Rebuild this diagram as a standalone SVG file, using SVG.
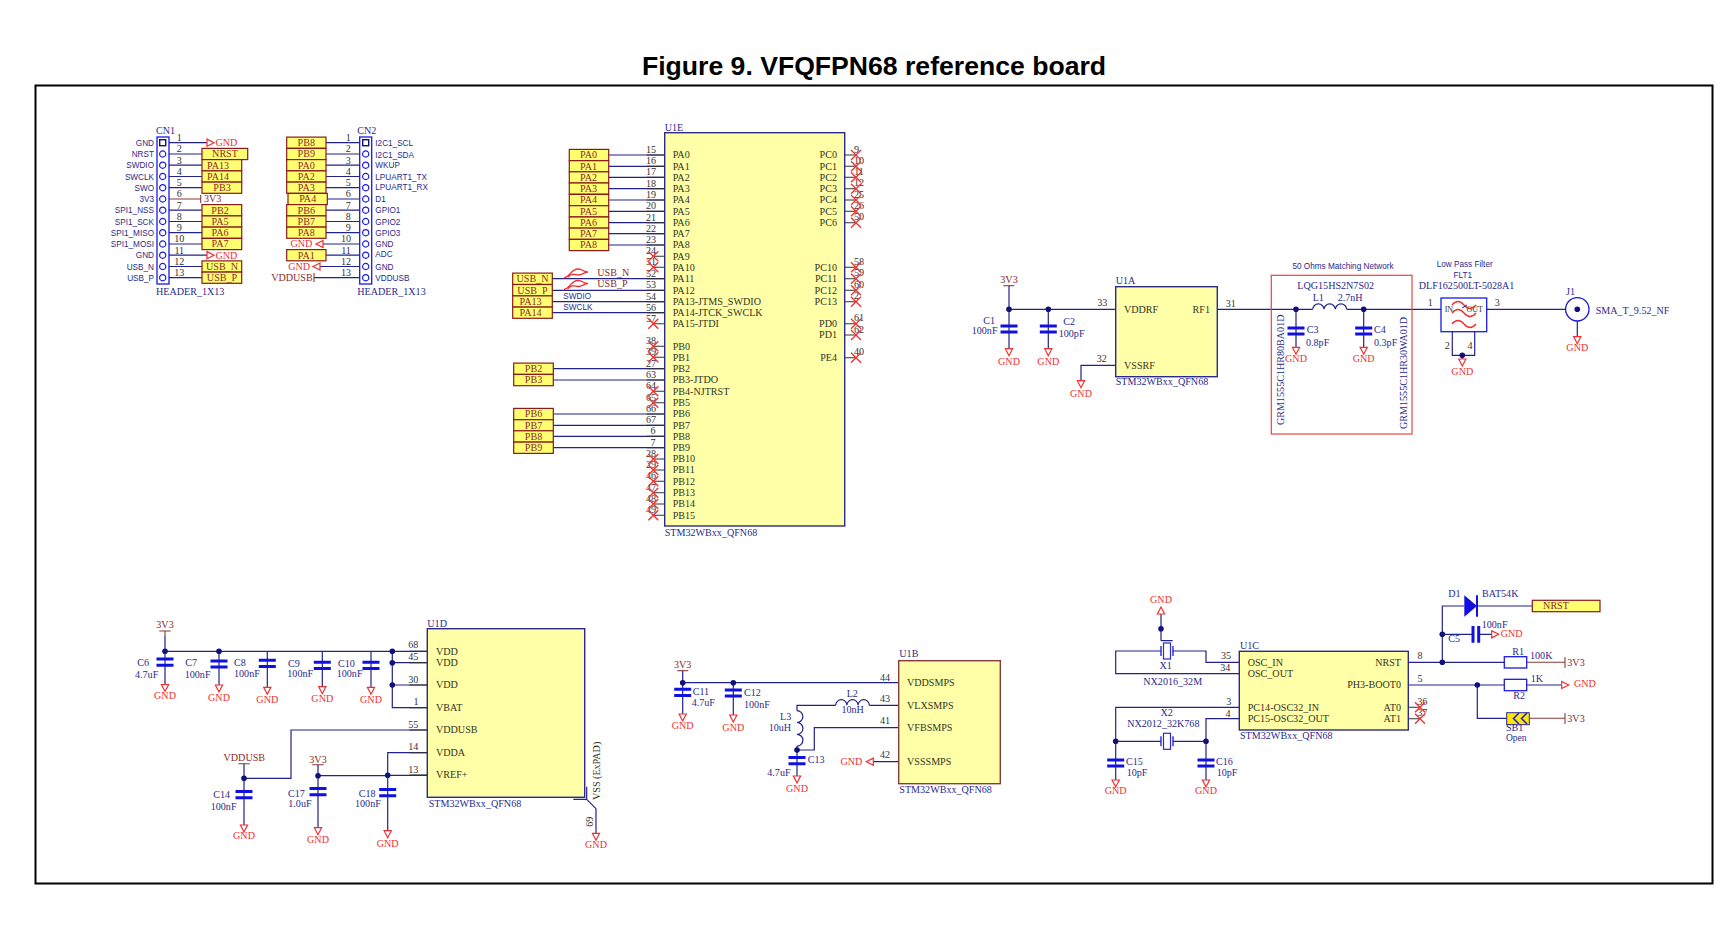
<svg xmlns="http://www.w3.org/2000/svg" width="1735" height="935" viewBox="0 0 1735 935">
<style>
text{font-family:"Liberation Serif","Times New Roman",serif;font-size:10.1px;fill:#2a2a8c}
.t{font-family:"Liberation Sans",Arial,sans-serif;font-size:26.6px;font-weight:bold;fill:#000}
.l{font-family:"Liberation Sans",Arial,sans-serif;font-size:8.2px;fill:#2a2a8c}
.n{fill:#333320}.p{fill:#333333}.r{fill:#f03030}.m{fill:#8a2a2a}
.c{text-anchor:middle}.e{text-anchor:end}
.w{fill:none;stroke:#22228c;stroke-width:1.2}
.k{fill:none;stroke:#333;stroke-width:1.1}
.rw{fill:none;stroke:#8a3a3a;stroke-width:1.1}
.chip{fill:#ffffa8;stroke:#2a2a8c;stroke-width:1.4}
.box{fill:#ffff70;stroke:#8a1a1a;stroke-width:1.2}
.sq{fill:none;stroke:#f03030;stroke-width:1.3}
.bl{fill:#fff;stroke:#1a1ae0;stroke-width:1.3}
</style>
<defs>
<g id="gd"><path d="M-3.6 0H3.6L0 7Z" fill="#fff" stroke="#f03030" stroke-width="1.2"/></g>
<g id="gu"><path d="M-3.6 0H3.6L0 -7Z" fill="#fff" stroke="#f03030" stroke-width="1.2"/></g>
<g id="gr"><path d="M0 -3.6V3.6L7 0Z" fill="#fff" stroke="#f03030" stroke-width="1.2"/></g>
<g id="gl"><path d="M0 -3.6V3.6L-7 0Z" fill="#fff" stroke="#f03030" stroke-width="1.2"/></g>
<g id="x"><path d="M-5 -5L5 5M-5 5L5 -5" stroke="#f03030" stroke-width="1.3" fill="none"/></g>
<g id="cap"><path d="M-8.5 -3.1H8.5M-8.5 3.1H8.5" stroke="#1010e0" stroke-width="3" fill="none"/></g>
<circle id="dot" r="2.8" fill="#10107a"/>
<circle id="hc" r="3.1" fill="#fff" stroke="#1a1ae0" stroke-width="1.2"/>
<g id="xt"><rect x="-3.5" y="-8" width="7" height="16" fill="none" stroke="#2a2ad0" stroke-width="1.2"/><path d="M-6 -5V5M6 -5V5" stroke="#2a2ad0" stroke-width="1.4" fill="none"/></g>
</defs>

<text class="t c" x="874" y="75">Figure 9. VFQFPN68 reference board</text>
<rect id="frame" x="35.5" y="85.5" width="1677" height="798" fill="#fff" stroke="#000" stroke-width="2"/>

<g id="connectors">
<path class="w" d="M169 142.7H207M169 154H202M169 165.2H202M169 176.5H202M169 187.7H202M169 210.2H202M169 221.5H202M169 232.7H202M169 244H202M169 255.2H207M169 266.5H202M169 277.7H202"/>
<path class="rw" d="M169 199H200.7M200.7 195V203"/>
<path class="w" d="M326 142.7H360M326 154H360M326 165.2H360M326 176.5H360M326 187.7H360M327.3 199H360M326 210.2H360M326 221.5H360M326 232.7H360M323 244H360M326 255.2H360M320 266.5H360M314 277.7H360"/>
<path class="rw" d="M314 273V282"/>
<path class="w" d="M608.7 155H664.7M608.7 166.3H664.7M608.7 177.3H664.7M608.7 188.7H664.7M608.7 200H664.7M608.7 211.3H664.7M608.7 222.7H664.7M608.7 233.7H664.7M608.7 245H664.7M552.3 278.7H664.7M552.3 290.3H664.7M552.3 301.7H664.7M552.3 312.7H664.7M553.3 368.7H664.7M553.3 380H664.7M553.3 414H664.7M553.3 425.3H664.7M553.3 436.3H664.7M553.3 447.7H664.7"/>
<path class="k" d="M664.7 155h-18M664.7 166.3h-18M664.7 177.3h-18M664.7 188.7h-18M664.7 200h-18M664.7 211.3h-18M664.7 222.7h-18M664.7 233.7h-18M664.7 245h-18M664.7 256.3H653.3M664.7 267.3H653.3M664.7 278.7h-18M664.7 290.3h-18M664.7 301.7h-18M664.7 312.7h-18M664.7 323.7H653.3M664.7 346.3H653.3M664.7 357.3H653.3M664.7 368.7h-18M664.7 380h-18M664.7 391.3H653.3M664.7 402.7H653.3M664.7 414h-18M664.7 425.3h-18M664.7 436.3h-18M664.7 447.7h-18M664.7 459H653.3M664.7 470H653.3M664.7 481.3H653.3M664.7 492.7H653.3M664.7 504H653.3M664.7 515.3H653.3M844.7 155H856M844.7 166.3H856M844.7 177.3H856M844.7 188.7H856M844.7 200H856M844.7 211.3H856M844.7 222.7H856M844.7 267.3H856M844.7 278.7H856M844.7 290.3H856M844.7 301.7H856M844.7 323.7H856M844.7 335H856M844.7 357.7H856"/>
<path class="sq" d="M564 278C570 277 571 269 578 269C583 269 583 272 588 272M568 277C572 273 574 274.5 578 275C583 275 584 272 588 272M564 289.5C570 288.5 571 280.5 578 280.5C583 280.5 583 283.5 588 283.5M568 288.5C572 284.5 574 286 578 286.5C583 286.5 584 283.5 588 283.5"/>
<path class="w" d="M1009 285.7V309.3H1115.7M1009 309.3V348.7M1048.3 309.3V348.7M1115.7 365.3H1081V380.7M1217.3 309.3H1312.7M1346.7 309.3H1441M1296 309.3V347.3M1363.7 309.3V347.3M1486.7 309.3H1566M1452.3 331.7V355.3H1474.7V331.7M1462.3 355.3V359M1577.3 321V336.7"/>
<path class="rw" d="M1003.3 285.7H1014.3"/>
<path class="w" d="M1312.7 309.3a5.67 5.67 0 0 1 11.33 0a5.67 5.67 0 0 1 11.33 0a5.67 5.67 0 0 1 11.33 0"/>
<path class="w" d="M165 636V651.3H427.3M392.3 651.3V707.7H427.3M392.3 662.7H427.3M392.3 685H427.3M165 651.3V686.7M219 651.3V685M267.3 651.3V687.3M322.3 651.3V686.7M371 651.3V687.3M427.3 730H291V778.3H244M244 763.7V825M427.3 752.7H387.7V830.7M318 764.7V827.7M318 775.7L387.7 775.3H427.3M586.7 786.7V799.3H573.3M586.7 799.3L596 808.7V833.3"/>
<path class="rw" d="M159.3 631H170.7M165 631V636M238.3 763.7H249.7M312.3 764.7H323.7"/>
<path class="k" d="M427.3 651.3h-18M427.3 662.7h-18M427.3 685h-18M427.3 707.7h-18M427.3 730h-18M427.3 752.7h-18M427.3 775h-18"/>
<path class="w" d="M682.7 670.7V714M682.7 682.7H898.7M733.3 682.7V715M898.7 705.3H869.3M835.7 705.3H797V710.7M797 746V776M797 750H814.3V727.7H898.7M898.7 761.7H873.3"/>
<path class="w" d="M835.7 705.3a5.6 5.6 0 0 1 11.2 0a5.6 5.6 0 0 1 11.2 0a5.6 5.6 0 0 1 11.2 0M797 710.7a5.9 5.9 0 0 1 0 11.8a5.9 5.9 0 0 1 0 11.8a5.9 5.9 0 0 1 0 11.8"/>
<path class="rw" d="M677.3 670.7H688.3"/>
<path class="w" d="M1161 614V640.7M1161 640.7H1172.7M1239.3 662.3H1206V651H1172.7M1161 651H1115.7V673.7H1239.3M1239.3 707.3H1115.7V780M1239.3 718.7H1206V780M1115.7 741.3H1161M1172.7 741.3H1206"/>
<path class="k" d="M1408.3 707.3H1420M1408.3 718.7H1420"/>
<path class="w" d="M1408.3 662.3H1504.3M1442.3 662.3V606H1464.3M1477 606H1532.3M1442.3 634.3H1472.7M1478.7 634.3H1491.7M1408.3 685H1504.3M1526.7 685H1561.7M1477.3 685V718.3H1506.7"/>
<path class="rw" d="M1526.7 662.3H1565M1565 657V668M1529.3 718.3H1565M1565 713V724"/>
</g>

<g id="CN1">
<rect x="157" y="137" width="12" height="147" fill="#fff" stroke="#1a1ae0" stroke-width="1.3"/>
<rect x="159.7" y="139.7" width="6" height="6" fill="#fff" stroke="#10107a" stroke-width="1.4"/>
<use href="#hc" x="162.7" y="154"/><use href="#hc" x="162.7" y="165.2"/><use href="#hc" x="162.7" y="176.5"/><use href="#hc" x="162.7" y="187.7"/><use href="#hc" x="162.7" y="199"/><use href="#hc" x="162.7" y="210.2"/><use href="#hc" x="162.7" y="221.5"/><use href="#hc" x="162.7" y="232.7"/><use href="#hc" x="162.7" y="244"/><use href="#hc" x="162.7" y="255.2"/><use href="#hc" x="162.7" y="266.5"/><use href="#hc" x="162.7" y="277.7"/>
<text x="156" y="134">CN1</text><text x="156" y="294.7">HEADER_1X13</text>
<text class="l e" x="154" y="146">GND</text><text class="l e" x="154" y="157">NRST</text><text class="l e" x="154" y="168">SWDIO</text><text class="l e" x="154" y="179.5">SWCLK</text><text class="l e" x="154" y="191">SWO</text><text class="l e" x="154" y="202">3V3</text><text class="l e" x="154" y="213">SPI1_NSS</text><text class="l e" x="154" y="224.5">SPI1_SCK</text><text class="l e" x="154" y="235.7">SPI1_MISO</text><text class="l e" x="154" y="247">SPI1_MOSI</text><text class="l e" x="154" y="258">GND</text><text class="l e" x="154" y="269.5">USB_N</text><text class="l e" x="154" y="280.7">USB_P</text>
<text class="p c" x="179.3" y="141">1</text><text class="p c" x="179.3" y="152.3">2</text><text class="p c" x="179.3" y="163.5">3</text><text class="p c" x="179.3" y="174.8">4</text><text class="p c" x="179.3" y="186">5</text><text class="p c" x="179.3" y="197.3">6</text><text class="p c" x="179.3" y="208.5">7</text><text class="p c" x="179.3" y="219.8">8</text><text class="p c" x="179.3" y="231">9</text><text class="p c" x="179.3" y="242.3">10</text><text class="p c" x="179.3" y="253.5">11</text><text class="p c" x="179.3" y="264.8">12</text><text class="p c" x="179.3" y="276">13</text>
<use href="#gr" x="207" y="142.7"/><text class="r" x="215.5" y="146">GND</text>
<use href="#gr" x="207" y="255.2"/><text class="r" x="215.5" y="258.5">GND</text>
<text class="m" x="204" y="202.3">3V3</text>
<rect class="box" x="202" y="148.4" width="45.7" height="11.2"/><text class="m c" x="225" y="157.3">NRST</text>
<rect class="box" x="202" y="159.6" width="39.7" height="11.2"/><text class="m c" x="218" y="168.5">PA13</text>
<rect class="box" x="202" y="170.9" width="39.7" height="11.2"/><text class="m c" x="218" y="179.8">PA14</text>
<rect class="box" x="202" y="182.1" width="39.7" height="11.2"/><text class="m c" x="222" y="191">PB3</text>
<rect class="box" x="202" y="204.6" width="39.7" height="11.2"/><text class="m c" x="220" y="213.5">PB2</text>
<rect class="box" x="202" y="215.9" width="39.7" height="11.2"/><text class="m c" x="220" y="224.8">PA5</text>
<rect class="box" x="202" y="227.1" width="39.7" height="11.2"/><text class="m c" x="220" y="236">PA6</text>
<rect class="box" x="202" y="238.4" width="39.7" height="11.2"/><text class="m c" x="220" y="247.3">PA7</text>
<rect class="box" x="202" y="260.9" width="39.7" height="11.2"/><text class="m c" x="222" y="269.8">USB_N</text>
<rect class="box" x="202" y="272.1" width="39.7" height="11.2"/><text class="m c" x="222" y="281">USB_P</text>
</g>

<g id="CN2">
<rect x="359.7" y="137" width="12" height="147" fill="#fff" stroke="#1a1ae0" stroke-width="1.3"/>
<rect x="362.7" y="139.7" width="6" height="6" fill="#fff" stroke="#10107a" stroke-width="1.4"/>
<use href="#hc" x="365.7" y="154"/><use href="#hc" x="365.7" y="165.2"/><use href="#hc" x="365.7" y="176.5"/><use href="#hc" x="365.7" y="187.7"/><use href="#hc" x="365.7" y="199"/><use href="#hc" x="365.7" y="210.2"/><use href="#hc" x="365.7" y="221.5"/><use href="#hc" x="365.7" y="232.7"/><use href="#hc" x="365.7" y="244"/><use href="#hc" x="365.7" y="255.2"/><use href="#hc" x="365.7" y="266.5"/><use href="#hc" x="365.7" y="277.7"/>
<text x="357.3" y="134">CN2</text><text x="357.3" y="294.7">HEADER_1X13</text>
<text class="l" x="375.3" y="146">I2C1_SCL</text><text class="l" x="375.3" y="157.5">I2C1_SDA</text><text class="l" x="375.3" y="168">WKUP</text><text class="l" x="375.3" y="179.5">LPUART1_TX</text><text class="l" x="375.3" y="189.5">LPUART1_RX</text><text class="l" x="375.3" y="202">D1</text><text class="l" x="375.3" y="213">GPIO1</text><text class="l" x="375.3" y="224.5">GPIO2</text><text class="l" x="375.3" y="235.7">GPIO3</text><text class="l" x="375.3" y="247">GND</text><text class="l" x="375.3" y="257">ADC</text><text class="l" x="375.3" y="269.5">GND</text><text class="l" x="375.3" y="280.7">VDDUSB</text>
<text class="p c" x="348.3" y="141">1</text><text class="p c" x="348.3" y="152.3">2</text><text class="p c" x="348.3" y="163.5">3</text><text class="p c" x="348.3" y="174.8">4</text><text class="p c" x="348.3" y="186">5</text><text class="p c" x="348.3" y="197.3">6</text><text class="p c" x="348.3" y="208.5">7</text><text class="p c" x="348.3" y="219.8">8</text><text class="p c" x="348.3" y="231">9</text><text class="p c" x="346" y="242.3">10</text><text class="p c" x="346" y="253.5">11</text><text class="p c" x="346" y="264.8">12</text><text class="p c" x="346" y="276">13</text>
<rect class="box" x="286.7" y="137.1" width="39.3" height="11.2"/><text class="m c" x="306.3" y="146">PB8</text>
<rect class="box" x="286.7" y="148.4" width="39.3" height="11.2"/><text class="m c" x="306.3" y="157.3">PB9</text>
<rect class="box" x="286.7" y="159.6" width="39.3" height="11.2"/><text class="m c" x="306.3" y="168.5">PA0</text>
<rect class="box" x="286.7" y="170.9" width="39.3" height="11.2"/><text class="m c" x="306.3" y="179.8">PA2</text>
<rect class="box" x="286.7" y="182.1" width="39.3" height="11.2"/><text class="m c" x="306.3" y="191">PA3</text>
<rect class="box" x="288" y="193.4" width="39.3" height="11.2"/><text class="m c" x="307.7" y="202.3">PA4</text>
<rect class="box" x="286.7" y="204.6" width="39.3" height="11.2"/><text class="m c" x="306.3" y="213.5">PB6</text>
<rect class="box" x="286.7" y="215.9" width="39.3" height="11.2"/><text class="m c" x="306.3" y="224.8">PB7</text>
<rect class="box" x="286.7" y="227.1" width="39.3" height="11.2"/><text class="m c" x="306.3" y="236">PA8</text>
<rect class="box" x="286.7" y="249.6" width="39.3" height="11.2"/><text class="m c" x="306.3" y="258.5">PA1</text>
<use href="#gl" x="323" y="244"/><text class="r e" x="312.3" y="247.3">GND</text>
<use href="#gl" x="320" y="266.5"/><text class="r e" x="310" y="269.8">GND</text>
<text class="m e" x="312.7" y="281">VDDUSB</text>
</g>

<g id="U1E">
<rect class="chip" x="664.7" y="132.7" width="180" height="393.3"/>
<text x="664.7" y="131">U1E</text><text x="664.7" y="536">STM32WBxx_QFN68</text>
<text class="n" x="672.7" y="158.3">PA0</text><text class="n" x="672.7" y="169.6">PA1</text><text class="n" x="672.7" y="180.6">PA2</text><text class="n" x="672.7" y="192">PA3</text><text class="n" x="672.7" y="203.3">PA4</text><text class="n" x="672.7" y="214.6">PA5</text><text class="n" x="672.7" y="226">PA6</text><text class="n" x="672.7" y="237">PA7</text><text class="n" x="672.7" y="248.3">PA8</text><text class="n" x="672.7" y="259.6">PA9</text><text class="n" x="672.7" y="270.6">PA10</text><text class="n" x="672.7" y="282">PA11</text><text class="n" x="672.7" y="293.6">PA12</text><text class="n" x="672.7" y="305">PA13-JTMS_SWDIO</text><text class="n" x="672.7" y="316">PA14-JTCK_SWCLK</text><text class="n" x="672.7" y="327">PA15-JTDI</text>
<text class="n" x="672.7" y="349.6">PB0</text><text class="n" x="672.7" y="360.6">PB1</text><text class="n" x="672.7" y="372">PB2</text><text class="n" x="672.7" y="383.3">PB3-JTDO</text><text class="n" x="672.7" y="394.6">PB4-NJTRST</text><text class="n" x="672.7" y="406">PB5</text><text class="n" x="672.7" y="417.3">PB6</text><text class="n" x="672.7" y="428.6">PB7</text><text class="n" x="672.7" y="439.6">PB8</text><text class="n" x="672.7" y="451">PB9</text><text class="n" x="672.7" y="462.3">PB10</text><text class="n" x="672.7" y="473.3">PB11</text><text class="n" x="672.7" y="484.6">PB12</text><text class="n" x="672.7" y="496">PB13</text><text class="n" x="672.7" y="507.3">PB14</text><text class="n" x="672.7" y="518.6">PB15</text>
<text class="n e" x="837" y="158.3">PC0</text><text class="n e" x="837" y="169.6">PC1</text><text class="n e" x="837" y="180.6">PC2</text><text class="n e" x="837" y="192">PC3</text><text class="n e" x="837" y="203.3">PC4</text><text class="n e" x="837" y="214.6">PC5</text><text class="n e" x="837" y="226">PC6</text><text class="n e" x="837" y="270.6">PC10</text><text class="n e" x="837" y="282">PC11</text><text class="n e" x="837" y="293.6">PC12</text><text class="n e" x="837" y="305">PC13</text><text class="n e" x="837" y="327">PD0</text><text class="n e" x="837" y="338.3">PD1</text><text class="n e" x="837" y="361">PE4</text>
<text class="p c" x="651" y="153">15</text><text class="p c" x="651" y="164.3">16</text><text class="p c" x="651" y="175.3">17</text><text class="p c" x="651" y="186.7">18</text><text class="p c" x="651" y="198">19</text><text class="p c" x="651" y="209.3">20</text><text class="p c" x="651" y="220.7">21</text><text class="p c" x="651" y="231.7">22</text><text class="p c" x="651" y="243">23</text><text class="p c" x="651" y="254.3">24</text><text class="p c" x="651" y="265.3">51</text><text class="p c" x="651" y="276.7">52</text><text class="p c" x="651" y="288.3">53</text><text class="p c" x="651" y="299.7">54</text><text class="p c" x="651" y="310.7">56</text><text class="p c" x="651" y="321.7">57</text>
<text class="p c" x="651" y="344.3">38</text><text class="p c" x="651" y="355.3">39</text><text class="p c" x="651" y="366.7">27</text><text class="p c" x="651" y="378">63</text><text class="p c" x="651" y="389.3">64</text><text class="p c" x="651" y="400.7">65</text><text class="p c" x="651" y="412">66</text><text class="p c" x="651" y="423.3">67</text><text class="p c" x="653" y="434.3">6</text><text class="p c" x="653" y="445.7">7</text><text class="p c" x="651" y="457">28</text><text class="p c" x="651" y="468">29</text><text class="p c" x="651" y="479.3">46</text><text class="p c" x="651" y="490.7">47</text><text class="p c" x="651" y="502">48</text><text class="p c" x="651" y="513.3">49</text>
<text class="p c" x="856.5" y="152.7">9</text><text class="p c" x="859" y="164">10</text><text class="p c" x="859" y="175">11</text><text class="p c" x="859" y="186.4">12</text><text class="p c" x="859" y="197.7">25</text><text class="p c" x="859" y="209">26</text><text class="p c" x="859" y="220.4">50</text><text class="p c" x="859" y="265">58</text><text class="p c" x="859" y="276.4">59</text><text class="p c" x="859" y="288">60</text><text class="p c" x="856.5" y="299.4">2</text><text class="p c" x="859" y="321.4">61</text><text class="p c" x="859" y="332.7">62</text><text class="p c" x="859" y="355.4">40</text>
<use href="#x" x="653.3" y="256.3"/><use href="#x" x="653.3" y="267.3"/><use href="#x" x="653.3" y="323.7"/><use href="#x" x="653.3" y="346.3"/><use href="#x" x="653.3" y="357.3"/><use href="#x" x="653.3" y="391.3"/><use href="#x" x="653.3" y="402.7"/><use href="#x" x="653.3" y="459"/><use href="#x" x="653.3" y="470"/><use href="#x" x="653.3" y="481.3"/><use href="#x" x="653.3" y="492.7"/><use href="#x" x="653.3" y="504"/><use href="#x" x="653.3" y="515.3"/>
<use href="#x" x="856" y="155"/><use href="#x" x="856" y="166.3"/><use href="#x" x="856" y="177.3"/><use href="#x" x="856" y="188.7"/><use href="#x" x="856" y="200"/><use href="#x" x="856" y="211.3"/><use href="#x" x="856" y="222.7"/><use href="#x" x="856" y="267.3"/><use href="#x" x="856" y="278.7"/><use href="#x" x="856" y="290.3"/><use href="#x" x="856" y="301.7"/><use href="#x" x="856" y="323.7"/><use href="#x" x="856" y="335"/><use href="#x" x="856" y="357.7"/>
<rect class="box" x="569.3" y="149.4" width="39.4" height="11.2"/><text class="m c" x="588.5" y="158.3">PA0</text>
<rect class="box" x="569.3" y="160.7" width="39.4" height="11.2"/><text class="m c" x="588.5" y="169.6">PA1</text>
<rect class="box" x="569.3" y="171.8" width="39.4" height="11.2"/><text class="m c" x="588.5" y="180.6">PA2</text>
<rect class="box" x="569.3" y="183" width="39.4" height="11.2"/><text class="m c" x="588.5" y="192">PA3</text>
<rect class="box" x="569.3" y="194.4" width="39.4" height="11.2"/><text class="m c" x="588.5" y="203.3">PA4</text>
<rect class="box" x="569.3" y="205.7" width="39.4" height="11.2"/><text class="m c" x="588.5" y="214.6">PA5</text>
<rect class="box" x="569.3" y="217" width="39.4" height="11.2"/><text class="m c" x="588.5" y="226">PA6</text>
<rect class="box" x="569.3" y="228.1" width="39.4" height="11.2"/><text class="m c" x="588.5" y="237">PA7</text>
<rect class="box" x="569.3" y="239.4" width="39.4" height="11.2"/><text class="m c" x="588.5" y="248.3">PA8</text>
<rect class="box" x="512.7" y="273.1" width="39.6" height="11.4"/><text class="m c" x="532.5" y="282">USB_N</text>
<rect class="box" x="512.7" y="284.5" width="39.6" height="11.4"/><text class="m c" x="532.5" y="293.6">USB_P</text>
<rect class="box" x="512.7" y="295.9" width="39.6" height="11.2"/><text class="m c" x="530.5" y="305">PA13</text>
<rect class="box" x="512.7" y="307.1" width="39.6" height="11.2"/><text class="m c" x="530.5" y="316">PA14</text>
<rect class="box" x="513.7" y="363.1" width="39.6" height="11.3"/><text class="m c" x="533.5" y="372">PB2</text>
<rect class="box" x="513.7" y="374.4" width="39.6" height="11.3"/><text class="m c" x="533.5" y="383.3">PB3</text>
<rect class="box" x="513.7" y="408.4" width="39.6" height="11.3"/><text class="m c" x="533.5" y="417.3">PB6</text>
<rect class="box" x="513.7" y="419.7" width="39.6" height="11.3"/><text class="m c" x="533.5" y="428.6">PB7</text>
<rect class="box" x="513.7" y="430.8" width="39.6" height="11.3"/><text class="m c" x="533.5" y="439.6">PB8</text>
<rect class="box" x="513.7" y="442.1" width="39.6" height="11.3"/><text class="m c" x="533.5" y="451">PB9</text>
<text class="m" x="597.3" y="276">USB_N</text><text class="m" x="597.3" y="287">USB_P</text>
<text class="l" x="563.3" y="299">SWDIO</text><text class="l" x="563.3" y="310">SWCLK</text>
</g>

<g id="U1A">
<rect class="chip" x="1115.7" y="286.7" width="101.6" height="90"/>
<text x="1115.7" y="283.7">U1A</text><text x="1115.7" y="385.3">STM32WBxx_QFN68</text>
<text class="n" x="1124" y="312.6">VDDRF</text><text class="n e" x="1210" y="312.6">RF1</text><text class="n" x="1124" y="368.6">VSSRF</text>
<text class="p c" x="1102.3" y="306">33</text><text class="p c" x="1101.7" y="362">32</text><text class="p c" x="1230.7" y="306.7">31</text>
<use href="#gd" x="1081" y="380.7"/><text class="r c" x="1081" y="396.7">GND</text>
</g>
<g id="PWR-3V3-RF"><text class="m c" x="1009" y="283">3V3</text><use href="#dot" x="1009" y="309.3"/><use href="#dot" x="1048.3" y="309.3"/></g>
<g id="C1"><use href="#cap" x="1009" y="329"/><text x="983.3" y="324">C1</text><text x="971.7" y="334.3">100nF</text><use href="#gd" x="1009" y="348.7"/><text class="r c" x="1009" y="364.7">GND</text></g>
<g id="C2"><use href="#cap" x="1048.3" y="329"/><text x="1063.3" y="325">C2</text><text x="1058.7" y="337.3">100pF</text><use href="#gd" x="1048.3" y="348.7"/><text class="r c" x="1048.3" y="364.7">GND</text></g>

<g id="matching-network">
<rect x="1271.3" y="275.3" width="140.7" height="158.7" fill="none" stroke="#f04040" stroke-width="1.2"/>
<text class="l c" x="1343" y="269.3">50 Ohms Matching Network</text>
<text transform="translate(1284.3 425) rotate(-90)">GRM1555C1HR80BA01D</text>
<text transform="translate(1407 429) rotate(-90)">GRM1555C1HR30WA01D</text>
</g>
<g id="L1"><text x="1297.3" y="288.7">LQG15HS2N7S02</text><text x="1312.7" y="301">L1</text><text x="1337.7" y="301">2.7nH</text></g>
<g id="C3"><use href="#dot" x="1296" y="309.3"/><use href="#cap" x="1296" y="331"/><text x="1306.7" y="333.3">C3</text><text x="1306" y="345.7">0.8pF</text><use href="#gd" x="1296" y="347.3"/><text class="r c" x="1296" y="362.3">GND</text></g>
<g id="C4"><use href="#dot" x="1363.7" y="309.3"/><use href="#cap" x="1363.7" y="331"/><text x="1374" y="333.3">C4</text><text x="1374" y="345.7">0.3pF</text><use href="#gd" x="1363.7" y="347.3"/><text class="r c" x="1363.7" y="362.3">GND</text></g>

<g id="FLT1">
<text class="l c" x="1464.7" y="267.3">Low Pass Filter</text><text class="l c" x="1462.7" y="278.3">FLT1</text>
<text x="1418.7" y="289.3">DLF162500LT-5028A1</text>
<rect class="bl" x="1441" y="298" width="45.7" height="33.7"/>
<text x="1444.7" y="311.7" style="font-size:8px" class="n">IN</text><text x="1466.5" y="311.7" style="font-size:8px" class="n">OUT</text>
<path class="sq" d="M1452 305q6 -7 12 0t12 0M1452 313q6 -7 12 0t12 0M1452 324q6 -7 12 0t12 0"/>
<path d="M1462 308l5 -3" stroke="#1a1ae0" fill="none"/>
<text class="p c" x="1430.3" y="306.3">1</text><text class="p c" x="1497.3" y="306.3">3</text><text class="p c" x="1447.3" y="349.3">2</text><text class="p c" x="1470" y="349.3">4</text>
<use href="#dot" x="1462.3" y="355.3"/><use href="#gd" x="1462.3" y="359"/><text class="r c" x="1462.3" y="375.3">GND</text>
</g>
<g id="J1">
<circle cx="1577.3" cy="309.3" r="11.7" fill="#fff" stroke="#1a1ae0" stroke-width="1.3"/><use href="#dot" x="1577.3" y="309.3"/>
<text x="1566" y="295.3">J1</text><text x="1595.7" y="313.7">SMA_T_9.52_NF</text>
<use href="#gd" x="1577.3" y="336.7"/><text class="r c" x="1577.3" y="351.3">GND</text>
</g>

<g id="U1D">
<rect class="chip" x="427.3" y="628.7" width="157.4" height="168.6"/>
<text x="427.3" y="627">U1D</text><text x="428.7" y="806.7">STM32WBxx_QFN68</text>
<text class="n" x="436" y="654.6">VDD</text><text class="n" x="436" y="666">VDD</text><text class="n" x="436" y="688.3">VDD</text><text class="n" x="436" y="711">VBAT</text><text class="n" x="436" y="733.3">VDDUSB</text><text class="n" x="436" y="756">VDDA</text><text class="n" x="436" y="778.3">VREF+</text>
<text class="p c" x="413.3" y="648.3">68</text><text class="p c" x="413.3" y="660">45</text><text class="p c" x="413.3" y="682.5">30</text><text class="p c" x="416" y="705">1</text><text class="p c" x="413.3" y="727.5">55</text><text class="p c" x="413.3" y="750">14</text><text class="p c" x="413.3" y="773">13</text>
<text class="n" transform="translate(600 800) rotate(-90)">VSS (ExPAD)</text>
<text class="p c" transform="translate(593 821.7) rotate(-90)">69</text>
<use href="#gd" x="596" y="833.3"/><text class="r c" x="596" y="848.3">GND</text>
<use href="#dot" x="392.3" y="651.3"/><use href="#dot" x="392.3" y="662.7"/><use href="#dot" x="392.3" y="685"/><use href="#dot" x="387.7" y="775.3"/>
</g>
<g id="PWR-3V3-D"><text class="m c" x="165" y="628.3">3V3</text><use href="#dot" x="165" y="651.3"/><use href="#dot" x="219" y="651.3"/></g>
<g id="C6"><use href="#cap" x="165" y="662.2"/><text x="137.3" y="666">C6</text><text x="135" y="677.7">4.7uF</text><use href="#gd" x="165" y="684.5"/><text class="r c" x="165" y="699.3">GND</text></g>
<g id="C7"><use href="#cap" x="219" y="664"/><text x="185.3" y="666">C7</text><text x="184.7" y="677.7">100nF</text><use href="#gd" x="219" y="685"/><text class="r c" x="219" y="700.7">GND</text></g>
<g id="C8"><use href="#cap" x="267.3" y="663.3"/><text x="234" y="666">C8</text><text x="234" y="676.7">100nF</text><use href="#gd" x="267.3" y="687.3"/><text class="r c" x="267.3" y="702.7">GND</text></g>
<g id="C9"><use href="#cap" x="322.3" y="665.3"/><text x="288" y="666.7">C9</text><text x="287.3" y="676.7">100nF</text><use href="#gd" x="322.3" y="686.7"/><text class="r c" x="322.3" y="701.7">GND</text></g>
<g id="C10"><use href="#cap" x="371" y="665.3"/><text x="338" y="666.7">C10</text><text x="336.7" y="676.7">100nF</text><use href="#gd" x="371" y="687.3"/><text class="r c" x="371" y="702.7">GND</text></g>
<g id="C14"><text class="m c" x="244.3" y="760.7">VDDUSB</text><use href="#dot" x="244" y="778.3"/><use href="#cap" x="244" y="794.7"/><text x="213.3" y="798.3">C14</text><text x="210.7" y="809.7">100nF</text><use href="#gd" x="244" y="825"/><text class="r c" x="244" y="839.3">GND</text></g>
<g id="C17"><text class="m c" x="318" y="762.7">3V3</text><use href="#dot" x="318" y="775.7"/><use href="#cap" x="318" y="791.7"/><text x="288" y="796.7">C17</text><text x="288.3" y="806.7">1.0uF</text><use href="#gd" x="318" y="827.7"/><text class="r c" x="318" y="843.3">GND</text></g>
<g id="C18"><use href="#cap" x="387.7" y="792.7"/><text x="358.7" y="796.7">C18</text><text x="355" y="806.7">100nF</text><use href="#gd" x="387.7" y="830.7"/><text class="r c" x="387.7" y="846.7">GND</text></g>

<g id="U1B">
<rect class="chip" x="898.7" y="660.7" width="101.6" height="123" style="stroke:#8a3a3a"/>
<text x="899.3" y="657.3">U1B</text><text x="899.3" y="792.7">STM32WBxx_QFN68</text>
<text class="n" x="907" y="686">VDDSMPS</text><text class="n" x="907" y="708.6">VLXSMPS</text><text class="n" x="907" y="731">VFBSMPS</text><text class="n" x="907" y="765">VSSSMPS</text>
<text class="p c" x="885" y="680.7">44</text><text class="p c" x="885" y="702.3">43</text><text class="p c" x="885" y="724">41</text><text class="p c" x="885" y="758.3">42</text>
<use href="#gl" x="873.3" y="761.7"/><text class="r e" x="862.3" y="764.7">GND</text>
</g>
<g id="PWR-3V3-B"><text class="m c" x="682.7" y="667.7">3V3</text><use href="#dot" x="682.7" y="682.7"/><use href="#dot" x="733.3" y="682.7"/></g>
<g id="C11"><use href="#cap" x="682.7" y="692.3"/><text x="692.7" y="694.7">C11</text><text x="691.7" y="706">4.7uF</text><use href="#gd" x="682.7" y="714"/><text class="r c" x="682.7" y="729.3">GND</text></g>
<g id="C12"><use href="#cap" x="733.3" y="693"/><text x="744" y="695.7">C12</text><text x="744" y="707.7">100nF</text><use href="#gd" x="733.3" y="715"/><text class="r c" x="733.3" y="730.7">GND</text></g>
<g id="L2"><text class="c" x="852.3" y="696.7">L2</text><text class="c" x="852.7" y="713.3">10nH</text></g>
<g id="L3"><text x="780" y="720">L3</text><text x="768.7" y="730.7">10uH</text></g>
<g id="C13"><use href="#dot" x="797" y="750"/><use href="#cap" x="797" y="760.7"/><text x="807.7" y="763.3">C13</text><text x="767.3" y="776.3">4.7uF</text><use href="#gd" x="797" y="776"/><text class="r c" x="797" y="792">GND</text></g>

<g id="U1C">
<rect class="chip" x="1239.3" y="651.3" width="169" height="78.7"/>
<text x="1240" y="648.7">U1C</text><text x="1240" y="738.7">STM32WBxx_QFN68</text>
<text class="n" x="1247.7" y="665.6">OSC_IN</text><text class="n" x="1247.7" y="677">OSC_OUT</text><text class="n" x="1247.7" y="710.6">PC14-OSC32_IN</text><text class="n" x="1247.7" y="722">PC15-OSC32_OUT</text>
<text class="n e" x="1401" y="665.6">NRST</text><text class="n e" x="1401" y="688.3">PH3-BOOT0</text><text class="n e" x="1401" y="710.6">AT0</text><text class="n e" x="1401" y="722">AT1</text>
<text class="p c" x="1226" y="659.3">35</text><text class="p c" x="1225.3" y="671">34</text><text class="p c" x="1228.7" y="705">3</text><text class="p c" x="1228" y="716.7">4</text>
<text class="p c" x="1420" y="659.3">8</text><text class="p c" x="1420" y="682">5</text><text class="p c" x="1422.3" y="705.3">36</text><text class="p c" x="1422.3" y="715.7">37</text>
<use href="#x" x="1420" y="707.3"/><use href="#x" x="1420" y="718.7"/>
</g>
<g id="X1"><use href="#xt" x="1167" y="651"/><use href="#dot" x="1161" y="628.7"/><use href="#gu" x="1161" y="614"/><text class="r c" x="1161" y="603.3">GND</text><text class="c" x="1165.7" y="669.3">X1</text><text class="c" x="1172.7" y="685">NX2016_32M</text></g>
<g id="X2"><use href="#xt" x="1167" y="741.3"/><text class="c" x="1166.7" y="716">X2</text><text class="c" x="1163.3" y="727">NX2012_32K768</text><use href="#dot" x="1115.7" y="741.3"/><use href="#dot" x="1206" y="741.3"/></g>
<g id="C15"><use href="#cap" x="1115.7" y="763"/><text x="1126" y="765.3">C15</text><text x="1126.7" y="776">10pF</text><use href="#gd" x="1115.7" y="780"/><text class="r c" x="1115.7" y="794">GND</text></g>
<g id="C16"><use href="#cap" x="1206" y="763"/><text x="1216" y="765.3">C16</text><text x="1216.7" y="776">10pF</text><use href="#gd" x="1206" y="780"/><text class="r c" x="1206" y="794">GND</text></g>

<g id="D1"><path d="M1464.3 595.3V616.7L1477 606Z" fill="#1010e0"/><path d="M1477 595.3V616.7" stroke="#1010e0" stroke-width="2" fill="none"/><text x="1448.3" y="597.3">D1</text><text x="1482" y="597.3">BAT54K</text><use href="#dot" x="1442.3" y="634.3"/><use href="#dot" x="1442.3" y="662.3"/></g>
<g id="NRST-port"><rect class="box" x="1532.3" y="600.3" width="67.7" height="11.4"/><text class="m c" x="1556" y="609.3">NRST</text></g>
<g id="C5"><path d="M1473 626V642.7M1478.7 626V642.7" stroke="#1010e0" stroke-width="3" fill="none"/><text x="1448.3" y="642.3">C5</text><text x="1481.7" y="628">100nF</text><use href="#gr" x="1491.7" y="634.3"/><text class="r" x="1500.7" y="637.3">GND</text></g>
<g id="R1"><rect class="bl" x="1504.3" y="656.7" width="22.4" height="11.3"/><text x="1512.3" y="655">R1</text><text x="1530" y="659.3">100K</text><text class="m" x="1567.3" y="665.7">3V3</text></g>
<g id="R2"><use href="#dot" x="1477.3" y="685"/><rect class="bl" x="1504.3" y="679.3" width="22.4" height="11.4"/><text x="1513.3" y="699.3">R2</text><text x="1530.7" y="682">1K</text><use href="#gr" x="1561.7" y="685"/><text class="r" x="1574" y="687.3">GND</text></g>
<g id="SB1"><rect x="1506.7" y="712.7" width="22.6" height="12" fill="#ffe800" stroke="#2a2a8c" stroke-width="1"/><path d="M1519 713L1513.5 718.5L1519 724M1527 713L1521.5 718.5L1527 724" fill="none" stroke="#1a1ae0" stroke-width="1.5"/><text x="1506" y="730.5">SB1</text><text x="1506" y="740.5" style="font-size:9.5px">Open</text><text class="m" x="1567.3" y="721.7">3V3</text></g>
</svg>
